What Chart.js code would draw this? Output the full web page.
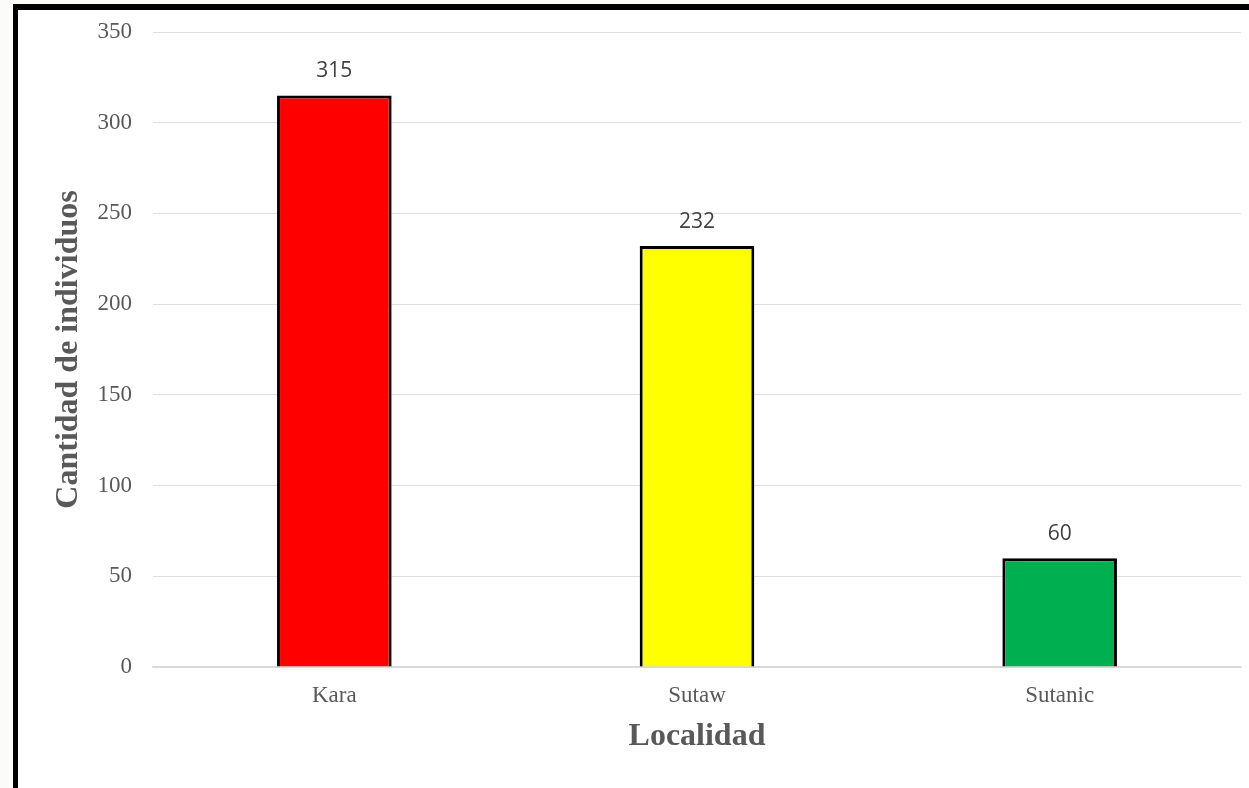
<!DOCTYPE html>
<html>
<head>
<meta charset="utf-8">
<script src="https://cdn.jsdelivr.net/npm/chart.js@4/dist/chart.umd.min.js"></script>
<style>
  html, body { margin:0; padding:0; width:1249px; height:788px; overflow:hidden; background:#fbfcf7; }
  #frame { position:absolute; left:13px; top:4px; border-left:5px solid #000; border-top:6px solid #000; background:#fff; width:1240px; height:790px; }
  #wrap { position:absolute; left:0; top:0; width:1231px; height:778px; }
</style>
</head>
<body>
<div id="frame"><div id="wrap"><canvas id="c" width="1231" height="778"></canvas></div></div>
<script>
const categories = ["Kara", "Sutaw", "Sutanic"];
const values = [315, 232, 60];
const barColors = ["#ff0000", "#ffff00", "#00b050"];
const yTicks = [0, 50, 100, 150, 200, 250, 300, 350];
const yTitle = "Cantidad de individuos";
const xTitle = "Localidad";

const dataLabels = {
  id: 'dataLabels',
  afterDatasetsDraw(chart) {
    const ctx = chart.ctx;
    const meta = chart.getDatasetMeta(0);
    ctx.save();
    ctx.font = '21px "Open Sans", "Liberation Sans", sans-serif';
    ctx.fillStyle = '#404040';
    ctx.textAlign = 'center';
    ctx.textBaseline = 'middle';
    meta.data.forEach((bar, i) => {
      ctx.fillText(String(values[i]), bar.x, bar.y - 24);
    });
    ctx.restore();
  }
};

new Chart(document.getElementById('c'), {
  type: 'bar',
  data: {
    labels: categories,
    datasets: [{
      data: values,
      backgroundColor: barColors,
      borderColor: '#000000',
      borderWidth: 3,
      barPercentage: 0.316,
      categoryPercentage: 1.0
    }]
  },
  options: {
    responsive: false,
    animation: false,
    devicePixelRatio: 1,
    layout: { padding: { left: 28, right: 8, top: 22, bottom: 0 } },
    plugins: { legend: { display: false }, tooltip: { enabled: false } },
    scales: {
      x: {
        grid: { display: false, drawTicks: false },
        border: { display: true, color: '#d9d9d9', width: 1.5 },
        ticks: { color: '#595959', padding: 15, font: { family: '"Liberation Serif", "Times New Roman", serif', size: 23 } },
        title: { display: true, text: xTitle, color: '#595959', padding: { top: 0, bottom: 32 },
                 font: { family: '"Liberation Serif", "Times New Roman", serif', size: 32, weight: 'bold' } },
        afterFit(scale) { scale.height = 121; }
      },
      y: {
        min: 0, max: 350,
        afterBuildTicks(scale) { scale.ticks = yTicks.map(v => ({ value: v })); },
        grid: { color: (c) => c.tick && c.tick.value === 0 ? '#d9d9d9' : '#dcdcea', drawTicks: false, lineWidth: 1 },
        border: { display: false },
        ticks: { color: '#595959', padding: 21, font: { family: '"Liberation Serif", "Times New Roman", serif', size: 23 } },
        title: { display: true, text: yTitle, color: '#595959', padding: { top: 4, bottom: 0 },
                 font: { family: '"Liberation Serif", "Times New Roman", serif', size: 32, weight: 'bold' } },
        afterFit(scale) { scale.width = 107; scale.paddingTop = 0; scale.paddingBottom = 0; }
      }
    }
  },
  plugins: [dataLabels]
});
</script>
</body>
</html>
